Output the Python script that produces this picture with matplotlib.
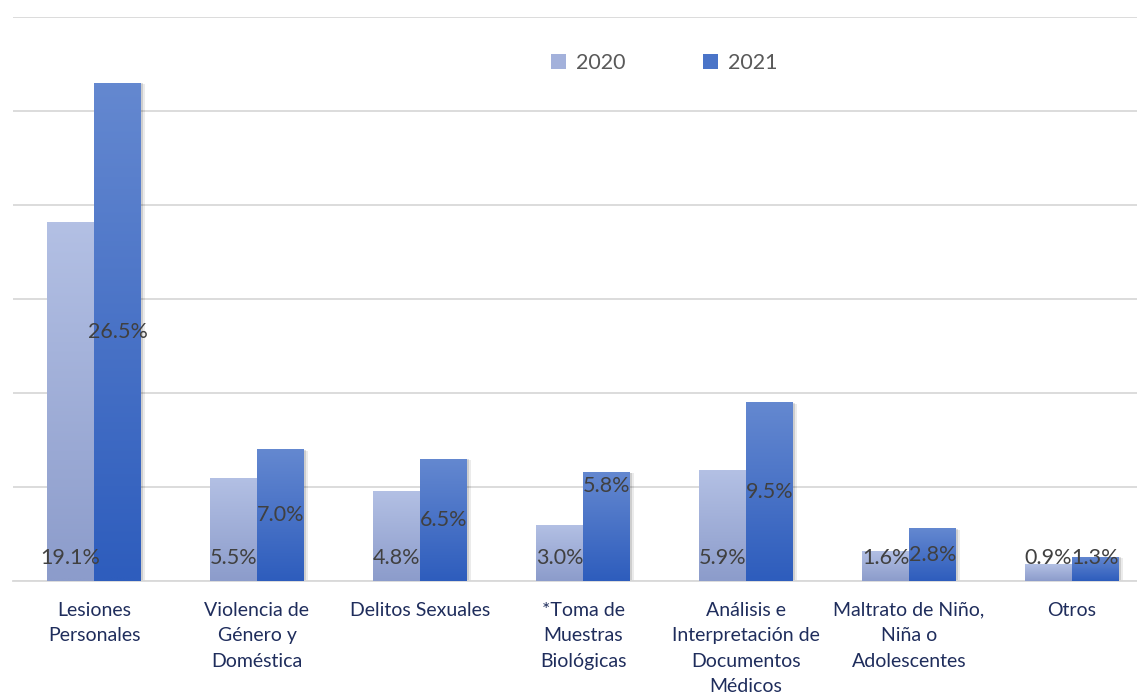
import matplotlib.pyplot as plt
import matplotlib.patheffects as pe
from matplotlib.patches import Patch
import numpy as np

categories = [
    "Lesiones\nPersonales",
    "Violencia de\nGénero y\nDoméstica",
    "Delitos Sexuales",
    "*Toma de\nMuestras\nBiológicas",
    "Análisis e\nInterpretación de\nDocumentos\nMédicos",
    "Maltrato de Niño,\nNiña o\nAdolescentes",
    "Otros",
]
vals_2020 = [19.1, 5.5, 4.8, 3.0, 5.9, 1.6, 0.9]
vals_2021 = [26.5, 7.0, 6.5, 5.8, 9.5, 2.8, 1.3]
# where Excel put each data label
place_2020 = ["base"] * 7
place_2021 = ["center", "center", "center", "end", "center", "center", "base"]

FONT = "Lato"
plt.rcParams["font.family"] = [FONT, "DejaVu Sans"]

fig = plt.figure(figsize=(11.37, 6.97), dpi=100)
ax = fig.add_axes([12.5 / 1137, 1 - 581 / 697, 1 - 12.5 / 1137, (581 - 17) / 697])

w = 47 / 163
x = np.arange(len(categories))


def grad_bars(xpos, vals, top, bottom):
    top = np.array(plt.matplotlib.colors.to_rgb(top))
    bottom = np.array(plt.matplotlib.colors.to_rgb(bottom))
    t = np.linspace(0, 1, 64)[:, None]
    img = (top * (1 - t) + bottom * t)[:, None, :]
    bars = ax.bar(xpos, vals, width=w, color=bottom, zorder=2,
                  path_effects=[pe.SimplePatchShadow(offset=(3, -1), alpha=0.08, shadow_rgbFace="k"),
                                pe.SimplePatchShadow(offset=(1.5, -0.5), alpha=0.12, shadow_rgbFace="k"),
                                pe.Normal()])
    for b in bars:
        x0, y0 = b.get_x(), b.get_y()
        im = ax.imshow(img, extent=(x0, x0 + b.get_width(), y0, y0 + b.get_height()),
                       aspect="auto", zorder=3, interpolation="bilinear")
        im.set_clip_path(b)
    return bars


grad_bars(x - w / 2, vals_2020, "#B3C0E4", "#8C9CCB")
grad_bars(x + w / 2, vals_2021, "#6488D0", "#2E5DBD")


def put_labels(xpos, vals, places):
    for xi, v, p in zip(xpos, vals, places):
        if p == "base":
            y = 1.22
        elif p == "end":
            y = v - 0.75
        else:
            y = v / 2
        ax.text(xi, y, f"{v:.1f}%", ha="center", va="center", fontsize=15.5,
                color="#404040", zorder=5)


put_labels(x - w / 2, vals_2020, place_2020)
put_labels(x + w / 2, vals_2021, place_2021)

ax.set_xlim(-0.5, (1137 - 94) / 163)
ax.set_ylim(0, 30)
ax.set_yticks(np.arange(0, 31, 5))
ax.set_yticklabels([])
ax.tick_params(axis="y", length=0)
ax.grid(axis="y", color="#D9D9D9", linewidth=1.3, zorder=0)
ax.set_axisbelow(True)
for s in ["top", "right", "left"]:
    ax.spines[s].set_visible(False)
ax.spines["bottom"].set_color("#D9D9D9")
ax.spines["bottom"].set_linewidth(1.3)

ax.set_xticks(x)
ax.set_xticklabels(categories, fontsize=14, color="#1F2D5C", linespacing=1.6, va="top")
ax.tick_params(axis="x", length=0, pad=15)

handles = [Patch(facecolor="#A3B1DB"), Patch(facecolor="#4A74C8")]
fig.legend(handles, ["2020", "2021"], loc="center", bbox_to_anchor=(664 / 1137, 1 - 63 / 697),
           ncol=2, frameon=False, fontsize=15.5, labelcolor="#595959", handlelength=0.7,
           handleheight=0.7, handletextpad=0.45, columnspacing=3.6)

fig.savefig("out.png", dpi=100)
